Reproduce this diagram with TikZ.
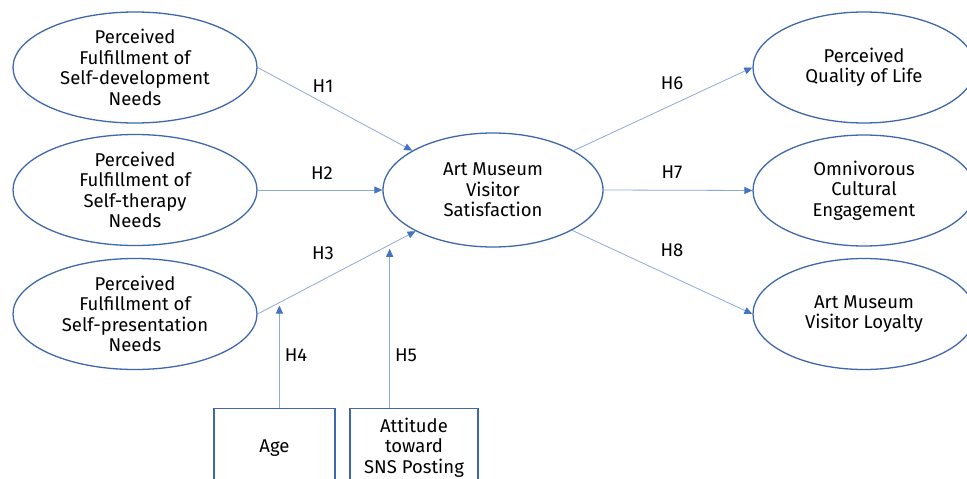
\documentclass[tikz,border=0pt]{standalone}
\usepackage{fontspec}
\setmainfont{Fira Sans}
\usetikzlibrary{arrows.meta,shapes.geometric}
\definecolor{ellblue}{HTML}{3F68AC}
\definecolor{linkblue}{HTML}{8EAADB}
\definecolor{tipblue}{HTML}{4472C4}
\begin{document}
\begin{tikzpicture}[x=1pt,y=-1pt,
  txtfont/.style={font=\fontsize{18.5}{20.5}\selectfont},
  ell/.style={ellipse, draw=ellblue, line width=1.3pt, inner sep=-10pt, align=center, txtfont},
  lell/.style={ell, minimum width=244pt, minimum height=111pt},
  rell/.style={ell, minimum width=222pt, minimum height=111pt},
  cell/.style={ell, minimum width=220pt, minimum height=114pt},
  boxnode/.style={rectangle, draw=ellblue, line width=1.3pt, anchor=north, minimum height=78pt, inner sep=0pt, align=center, txtfont},
  link/.style={draw=linkblue, line width=0.8pt, -{Triangle[length=8pt,width=7pt,color=tipblue]}},
  hlabel/.style={txtfont, inner sep=0pt}
]
\clip (0,0) rectangle (967,479);
\fill[white] (0,0) rectangle (967,479);

% left ellipses
\node[lell] (e1) at (135,67.5) {Perceived\\Fulfillment of\\Self-development\\Needs};
\node[lell] (e2) at (135,190) {Perceived\\Fulfillment of\\Self-therapy\\Needs};
\node[lell] (e3) at (135,314) {Perceived\\Fulfillment of\\Self-presentation\\Needs};

% centre
\node[cell] (c) at (493,190) {Art Museum\\Visitor\\Satisfaction};

% right ellipses
\node[rell] (r1) at (864,67.5) {Perceived\\Quality of Life};
\node[rell] (r2) at (864,190.5) {Omnivorous\\Cultural\\Engagement};
\node[rell] (r3) at (864,314) {Art Museum\\Visitor Loyalty};

% boxes
\node[boxnode, minimum width=121pt] (age) at (274.5,408) {Age};
\node[boxnode, minimum width=128pt] (att) at (414,408) {Attitude\\toward\\SNS Posting};

% connectors
\draw[link] (e1.east) -- (c.154);
\draw[link] (e2.east) -- (c.west);
\draw[link] (e3.east) -- (c.208);
\path (e3.east) -- (c.208) coordinate[pos=0.138] (m4) coordinate[pos=0.836] (m5);
\draw[link, shorten >=3pt] (age.north -| m4) -- (m4);
\draw[link, shorten >=4pt] (att.north -| m5) -- (m5);
\draw[link] (c.26.6) -- (r1.west);
\draw[link] (c.east) -- (r2.west);
\draw[link] (c.-27.7) -- (r3.west);

% labels
\node[hlabel] (l1) at (323,86) {H1};
\node[hlabel] (l2) at (322,173) {H2};
\node[hlabel] (l3) at (323,253) {H3};
\node[hlabel] (l4) at (296,355) {H4};
\node[hlabel] (l5) at (406,355) {H5};
\node[hlabel] (l6) at (672,83) {H6};
\node[hlabel] (l7) at (672,172) {H7};
\node[hlabel] (l8) at (672,250) {H8};
\end{tikzpicture}
\end{document}
